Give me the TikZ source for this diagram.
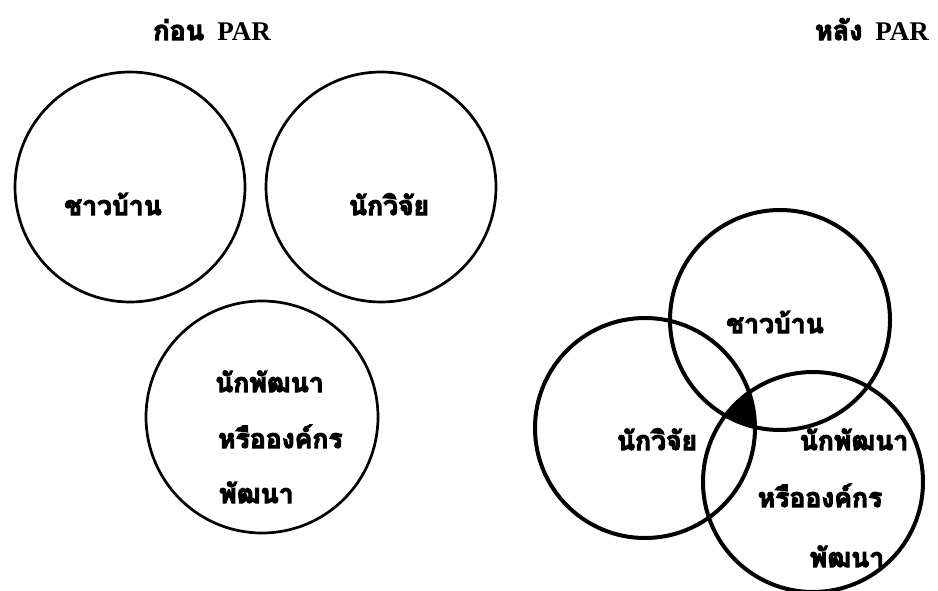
\documentclass[tikz,border=0pt]{standalone}
\usepackage{fontspec}
\setmainfont{Liberation Serif}
\newfontfamily\thaiheavy[Script=Thai,FakeBold=4]{Loma}

\begin{document}
\begin{tikzpicture}[
    x=1pt,y=-1pt,
    group/.style={draw,circle,line width=2.7pt,minimum size=230pt,inner sep=0pt},
    groupb/.style={draw,circle,line width=4pt,minimum size=220pt,inner sep=0pt},
    thaitext/.style={font=\thaiheavy\bfseries\fontsize{26.5}{30}\selectfont,inner sep=0pt,anchor=base},
    heading/.style={font=\bfseries\fontsize{27}{30}\selectfont,inner sep=0pt,anchor=base}
  ]
    \useasboundingbox (0,0) rectangle (938,590);

    % before PAR
    \node[heading] (before) at (212,40) {{\thaiheavy\bfseries ก่อน}\hspace{13pt}PAR};
    \node[group] (bvillager) at (130,187) {};
    \node[group] (bresearcher) at (381,187) {};
    \node[group,minimum size=232pt] (bdeveloper) at (262,417) {};
    \node[thaitext] (bvillagertext) at (113,215) {ชาวบ้าน};
    \node[thaitext] (bresearchertext) at (389,215) {นักวิจัย};
    \node[thaitext,anchor=base west] (bdevone) at (215,392) {นักพัฒนา};
    \node[thaitext,anchor=base west] (bdevtwo) at (218,448) {หรือองค์กร};
    \node[thaitext,anchor=base west] (bdevthree) at (219,503) {พัฒนา};

    % after PAR
    \node[heading] (after) at (872,40) {{\thaiheavy\bfseries หลัง}\hspace{13pt}PAR};
    \node[groupb] (avillager) at (780,320) {};
    \node[groupb] (aresearcher) at (645,428) {};
    \node[groupb] (adeveloper) at (813,482) {};
    \begin{scope}
      \clip (avillager.center) circle (110);
      \clip (aresearcher.center) circle (110);
      \fill (adeveloper.center) circle (110);
    \end{scope}
    \node[thaitext] (avillagertext) at (775,333) {ชาวบ้าน};
    \node[thaitext] (aresearchertext) at (657,450) {นักวิจัย};
    \node[thaitext] (adevone) at (854,450) {นักพัฒนา};
    \node[thaitext] (adevtwo) at (820,507) {หรือองค์กร};
    \node[thaitext] (adevthree) at (847,567) {พัฒนา};
  \end{tikzpicture}
\end{document}
